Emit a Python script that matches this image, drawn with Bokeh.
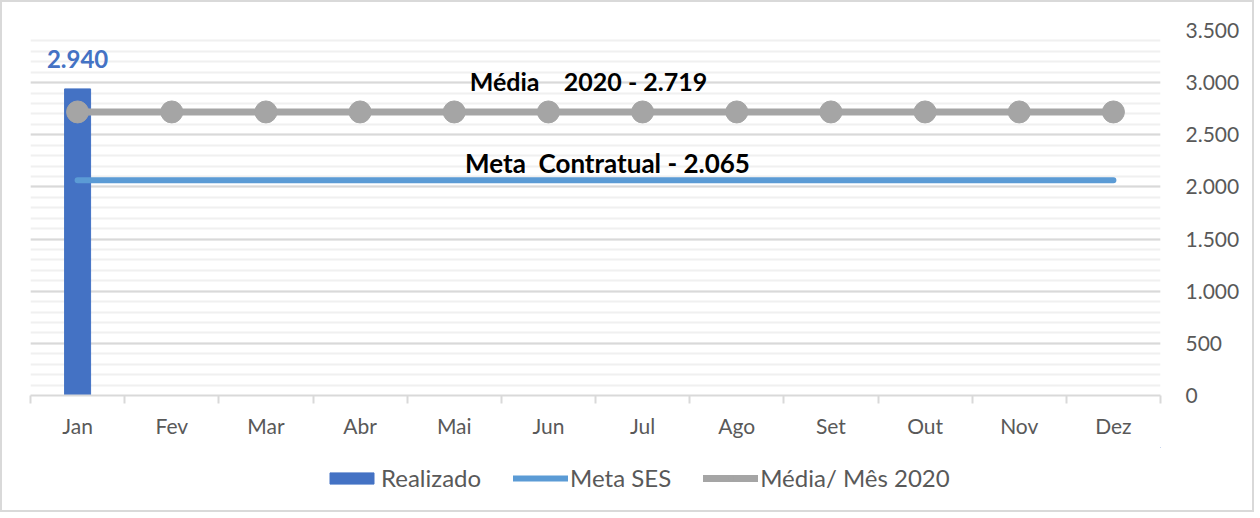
from bokeh.plotting import figure
from bokeh.layouts import column
from bokeh.models import FixedTicker, Legend, LegendItem, Label
from bokeh.core.properties import value
from bokeh.embed import file_html
from bokeh.resources import INLINE

months = ["Jan", "Fev", "Mar", "Abr", "Mai", "Jun", "Jul", "Ago", "Set", "Out", "Nov", "Dez"]
realizado = [2940, None, None, None, None, None, None, None, None, None, None, None]
meta_ses = [2065, 2065, 2065, 2065, 2065, 2065, 2065, 2065, 2065, 2065, 2065, 2065]
media_mes = [2719, 2719, 2719, 2719, 2719, 2719, 2719, 2719, 2719, 2719, 2719, 2719]
y_ticks = [0, 500, 1000, 1500, 2000, 2500, 3000, 3500]
y_tick_labels = ["0", "500", "1.000", "1.500", "2.000", "2.500", "3.000", "3.500"]
series_names = ["Realizado", "Meta SES", "Média/ Mês 2020"]
label_media = "Média\u00a0\u00a0\u00a0\u00a02020 - 2.719"
label_meta = "Meta\u00a0\u00a0Contratual - 2.065"

FONT = "Lato"
GRAY_TXT = "#595959"
C_BAR, C_META, C_MEDIA = "#4472C4", "#5B9BD5", "#A5A5A5"

xc = [i + 0.5 for i in range(len(months))]
bar_x = [x for x, v in zip(xc, realizado) if v is not None]
bar_top = [v for v in realizado if v is not None]
bar_txt = [f"{v:,}".replace(",", ".") for v in bar_top]

p = figure(width=1250, height=445, x_range=(0, 12), y_range=(0, 3500),
           y_axis_location="right", output_backend="svg", toolbar_location=None,
           min_border_left=28, min_border_top=28, min_border_right=92, min_border_bottom=52)
p.outline_line_color = None
p.background_fill_color = "white"
p.border_fill_color = "white"

# Y axis
p.yaxis.ticker = FixedTicker(ticks=y_ticks, minor_ticks=list(range(0, 3501, 100)))
p.yaxis.major_label_overrides = {t: l for t, l in zip(y_ticks, y_tick_labels)}
p.yaxis.axis_line_color = None
p.yaxis.major_tick_line_color = None
p.yaxis.minor_tick_line_color = None
p.yaxis.major_label_text_font = FONT
p.yaxis.major_label_text_font_size = "21px"
p.yaxis.major_label_text_color = GRAY_TXT
p.yaxis.major_label_standoff = 19

# X axis
p.xaxis.ticker = FixedTicker(ticks=xc, minor_ticks=list(range(0, 13)))
p.xaxis.major_label_overrides = {x: m for x, m in zip(xc, months)}
p.xaxis.axis_line_color = "#d9d9d9"
p.xaxis.axis_line_width = 2
p.xaxis.major_tick_line_color = None
p.xaxis.minor_tick_line_color = "#d9d9d9"
p.xaxis.minor_tick_line_width = 2
p.xaxis.minor_tick_out = 8
p.xaxis.minor_tick_in = 0
p.xaxis.major_label_text_font = FONT
p.xaxis.major_label_text_font_size = "21px"
p.xaxis.major_label_text_color = GRAY_TXT
p.xaxis.major_label_standoff = 9

# Grid
p.xgrid.grid_line_color = None
p.ygrid.grid_line_color = "#d9d9d9"
p.ygrid.grid_line_width = 2
p.ygrid.minor_grid_line_color = "#f0f0f0"
p.ygrid.minor_grid_line_width = 2

# Glyphs
p.vbar(x=bar_x, top=bar_top, width=0.276, color=C_BAR)
p.line(x=xc, y=meta_ses, line_color=C_META, line_width=6, line_cap="round")
p.line(x=xc, y=media_mes, line_color=C_MEDIA, line_width=7)
p.scatter(x=xc, y=media_mes, size=22, color=C_MEDIA)

p.text(x=bar_x, y=bar_top, text=bar_txt, text_font=value(FONT), text_font_style="bold",
       text_font_size="24px", text_color=C_BAR, text_align="center",
       text_baseline="bottom", y_offset=-21)

p.add_layout(Label(x=6.0, y=media_mes[0], text=label_media, text_font=FONT, text_font_style="bold",
                   text_font_size="25px", text_color="black", text_align="center",
                   text_baseline="middle", y_offset=31, x_offset=-7))
p.add_layout(Label(x=6.0, y=meta_ses[0], text=label_meta, text_font=FONT, text_font_style="bold",
                   text_font_size="26px", text_color="black", text_align="center",
                   text_baseline="middle", y_offset=17, x_offset=12))

# Legend strip (separate figure below the chart); its glyphs reuse the
# series data but lie outside this strip's visible range, so only the legend shows.
lg = figure(width=1250, height=63, x_range=(-100, -99), y_range=(-100, -99),
            x_axis_location=None, y_axis_location=None,
            output_backend="svg", toolbar_location=None, min_border=0)
lg.grid.visible = False
lg.outline_line_color = None
lg.border_fill_color = "white"
lg.background_fill_color = "white"
r_bar = lg.vbar(x=bar_x, top=bar_top, width=0.276, color=C_BAR)
r_meta = lg.line(x=xc, y=meta_ses, line_color=C_META, line_width=6, line_cap="round")
r_med_l = lg.line(x=xc, y=media_mes, line_color=C_MEDIA, line_width=7, line_cap="round")
r_med_p = lg.scatter(x=xc, y=media_mes, size=14, color=C_MEDIA)

legend = Legend(items=[
    LegendItem(label=series_names[0], renderers=[r_bar]),
    LegendItem(label=series_names[1], renderers=[r_meta]),
    LegendItem(label=series_names[2], renderers=[r_med_l, r_med_p]),
], orientation="horizontal", location=(294, 18))
legend.border_line_color = None
legend.background_fill_alpha = 0
legend.label_text_font = FONT
legend.label_text_font_size = "24px"
legend.label_text_color = GRAY_TXT
legend.glyph_width = 55
legend.glyph_height = 14
legend.label_standoff = 2
legend.spacing = 32
legend.margin = 0
legend.padding = 0
lg.add_layout(legend)

layout = column(p, lg, spacing=0)
layout.styles = {"border": "2px solid #d9d9d9", "background-color": "white"}

open("out.html", "w").write(file_html(layout, INLINE))
